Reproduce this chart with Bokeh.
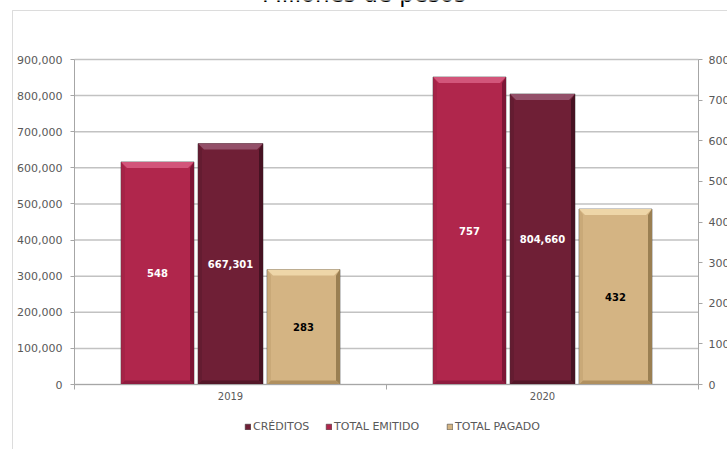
from bokeh.plotting import figure
from bokeh.models import (Range1d, LinearAxis, FixedTicker, NumeralTickFormatter, Label,
                          BoxAnnotation, Legend, LegendItem)
from bokeh.core.properties import value
from bokeh.embed import file_html
from bokeh.resources import INLINE

# ---------------- data ----------------
years = ["2019", "2020"]
total_emitido = [548, 757]          # right axis
creditos = [667301, 804660]         # left axis
total_pagado = [283, 432]           # right axis
left_ticks = [0, 100000, 200000, 300000, 400000, 500000, 600000, 700000, 800000, 900000]
right_ticks = [0, 100, 200, 300, 400, 500, 600, 700, 800]
legend_labels = ["CRÉDITOS", "TOTAL EMITIDO", "TOTAL PAGADO"]
title_text = "Millones de pesos"

# ---------------- layout (page pixels) ----------------
FONT = "DejaVu Sans"
W, H = 727, 449
AXL, AXR, AXT, AXB = 74, 698, 59, 384     # plot area edges
LMAX, RMAX = 900000, 800
NCAT = len(years)
CAT = (AXR - AXL) / NCAT                    # px per category
LPP = LMAX / (AXB - AXT)                    # left units per px
RPP = RMAX / (AXB - AXT)                    # right units per px

C_EMI = ("#B0264C", "#D2557A", "#7C1636", "#8E1C3F", "#9E2245")
C_CRE = ("#6F1F36", "#935069", "#461222", "#531728", "#5E1A2E")
C_PAG = ("#D4B483", "#EED6A8", "#9A7F52", "#B0905F", "#C2A272")

p = figure(width=W, height=H, output_backend="svg", toolbar_location=None, tools="",
           x_range=Range1d(-AXL / CAT, (W - AXL) / CAT),
           y_range=Range1d(-(H - AXB) * LPP, AXB * LPP),
           min_border=0, outline_line_color=None,
           background_fill_color="white", border_fill_color="white")
p.extra_y_ranges = {"r": Range1d(-(H - AXB) * RPP, AXB * RPP)}

xpp = 1.0 / CAT
ypp = {"default": LPP, "r": RPP}
off = 73 / CAT
w_side = 73 / CAT
w_mid = 65 / CAT
centers = [i + 0.5 for i in range(NCAT)]

# ---------------- gridlines ----------------
GRID = "#C2C2C2"
p.segment(x0=[0] * len(left_ticks), x1=[NCAT] * len(left_ticks), y0=left_ticks,
          y1=left_ticks, line_color=GRID, line_width=1.5)


def draw_bars(xs, w, vals, colors, rname):
    main, top_c, right_c, bottom_c, left_c = colors
    r = p.vbar(x=xs, width=w, top=vals, bottom=0, fill_color=main,
               line_color="#3a3a3a", line_alpha=0.55, line_width=1, y_range_name=rname)
    sx, ty, by = 4 * xpp, 6 * ypp[rname], 4 * ypp[rname]
    tx = 6 * xpp
    txs, tys, rxs, rys, bxs, bys, lxs, lys = [], [], [], [], [], [], [], []
    for x, v in zip(xs, vals):
        xl, xr = x - w / 2, x + w / 2
        txs.append([xl, xr, xr - tx, xl + tx]); tys.append([v, v, v - ty, v - ty])
        rxs.append([xr, xr, xr - sx, xr - sx]); rys.append([v, 0, by, v - ty])
        bxs.append([xl, xr, xr - sx, xl + sx]); bys.append([0, 0, by, by])
        lxs.append([xl, xl, xl + sx, xl + sx]); lys.append([v, 0, by, v - ty])
    p.patches(txs, tys, fill_color=top_c, line_color=None, y_range_name=rname)
    p.patches(rxs, rys, fill_color=right_c, line_color=None, y_range_name=rname)
    p.patches(bxs, bys, fill_color=bottom_c, line_color=None, y_range_name=rname)
    p.patches(lxs, lys, fill_color=left_c, line_color=None, fill_alpha=0.6, y_range_name=rname)
    return r


r_emi = draw_bars([c - off for c in centers], w_side, total_emitido, C_EMI, "r")
r_cre = draw_bars(centers, w_mid, creditos, C_CRE, "default")
r_pag = draw_bars([c + off for c in centers], w_side, total_pagado, C_PAG, "r")

lab_kw = dict(text_font=value(FONT), text_font_style="bold", text_font_size="10px",
              text_align="center", text_baseline="middle")
p.text(x=[c - off for c in centers], y=[v / 2 for v in total_emitido],
       text=[str(v) for v in total_emitido], text_color="white", y_range_name="r", **lab_kw)
p.text(x=centers, y=[v / 2 for v in creditos],
       text=[f"{v:,}" for v in creditos], text_color="white", **lab_kw)
p.text(x=[c + off for c in centers], y=[v / 2 for v in total_pagado],
       text=[str(v) for v in total_pagado], text_color="black", y_range_name="r", **lab_kw)

# ---------------- axes ----------------
AX = "#A6A6A6"
TXT = "#595959"
ya = p.yaxis[0]
ya.ticker = FixedTicker(ticks=left_ticks)
ya.formatter = NumeralTickFormatter(format="0,0")
ya.major_label_standoff = 8
ya.fixed_location = 0
ya.bounds = (0, LMAX)
right_ax = LinearAxis(y_range_name="r", ticker=FixedTicker(ticks=right_ticks),
                      major_label_standoff=6, fixed_location=NCAT, bounds=(0, RMAX))
p.add_layout(right_ax, "right")

for ax in [ya, right_ax]:
    ax.axis_line_color = AX
    ax.major_tick_line_color = AX
    ax.major_tick_out = 4
    ax.major_tick_in = 0
    ax.minor_tick_line_color = None
    ax.major_label_text_font = FONT
    ax.major_label_text_font_size = "11px"
    ax.major_label_text_color = TXT

xa = p.xaxis[0]
xa.ticker = FixedTicker(ticks=centers, minor_ticks=list(range(NCAT + 1)))
xa.major_label_overrides = {c: y for c, y in zip(centers, years)}
xa.fixed_location = 0
xa.bounds = (0, NCAT)
xa.major_tick_line_color = None
xa.minor_tick_out = 5
xa.minor_tick_in = 0
xa.minor_tick_line_color = AX
xa.axis_line_color = AX
xa.major_label_standoff = 1
xa.major_label_text_font = FONT
xa.major_label_text_font_size = "10px"
xa.major_label_text_color = TXT

p.xgrid.visible = False
p.ygrid.visible = False

# ---------------- chart border & title ----------------
p.add_layout(BoxAnnotation(left=12, right=W + 20, top=H - 10, bottom=-20,
                           left_units="screen", right_units="screen",
                           top_units="screen", bottom_units="screen",
                           fill_alpha=0, line_color="#8C8C8C", line_width=1))
p.add_layout(Label(x=363.5, y=H + 7, x_units="screen", y_units="screen",
                   text=title_text, text_align="center", text_baseline="alphabetic",
                   text_font=FONT, text_font_size="23px", text_color="#000000"))

# ---------------- legend ----------------
for lab, rend, xpage in zip(legend_labels, [r_cre, r_emi, r_pag], [244, 325, 446]):
    lg = Legend(items=[LegendItem(label=lab, renderers=[rend])],
                location=(xpage, H - 433), orientation="horizontal",
                padding=0, margin=0, spacing=0, glyph_width=7, glyph_height=7,
                label_height=7, label_standoff=2, label_text_font=FONT,
                label_text_font_size="11px", label_text_color=TXT,
                border_line_alpha=0, background_fill_alpha=0)
    p.add_layout(lg)

open("out.html", "w").write(file_html(p, INLINE))
